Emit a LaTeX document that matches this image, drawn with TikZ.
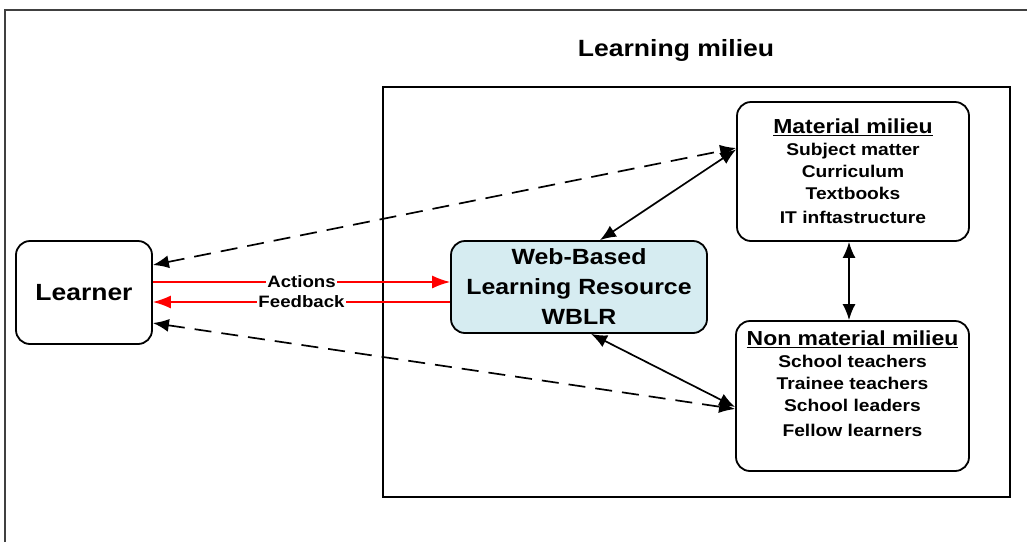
\documentclass[tikz,border=0pt]{standalone}
\usepackage{fontspec}
\setmainfont[FakeStretch=1.13]{Liberation Sans}
\usetikzlibrary{arrows.meta,calc}
\definecolor{wblrblue}{RGB}{214,236,241}
\newcommand\hdfont{\fontsize{20.3}{22}\selectfont\bfseries}
\begin{document}
\begin{tikzpicture}[x=1pt,y=-1pt,
  box/.style={draw=black,line width=1.8pt,rounded corners=14pt,fill=white,inner sep=0pt},
  conn/.style={line width=1.7pt,{Latex[length=16pt,width=13pt]}-{Latex[length=16pt,width=13pt]}},
  dashconn/.style={conn,dash pattern=on 17pt off 10pt},
  redarrow/.style={draw=red,line width=1.4pt,-{Latex[length=18pt,width=13pt]},color=red},
  lbl/.style={fill=white,inner sep=1pt,text=black,font=\fontsize{16.5}{18}\selectfont\bfseries},
  boxtext/.style={anchor=north,inner sep=0pt,align=center,font=\fontsize{17}{22}\selectfont\bfseries}
]
\useasboundingbox (0,0) rectangle (1027,542);
\draw[line width=1.2pt,draw=black!75] (5,542) -- (5,10) -- (1027,10);

\node[draw,line width=1.8pt,minimum width=627pt,minimum height=410pt,inner sep=0pt] (milieu) at (696.5,292) {};
\node[font=\fontsize{23.5}{28}\selectfont\bfseries] (title) at (676,50) {Learning milieu};

\node[box,minimum width=136pt,minimum height=103pt,font=\fontsize{23.4}{28}\selectfont\bfseries] (learner) at (84,292.5) {Learner};
\node[box,fill=wblrblue,minimum width=256pt,minimum height=92pt,align=center,font=\fontsize{22}{30}\selectfont\bfseries] (wblr) at (579,287) {Web-Based\\Learning Resource\\WBLR};

\node[box,minimum width=232pt,minimum height=139pt] (mat) at (853,171.5) {};
\node[boxtext] (mattext) at (853,119) {{\hdfont\underline{Material milieu}}\\Subject matter\\Curriculum\\Textbooks\\[2pt]IT inftastructure};

\node[box,minimum width=233pt,minimum height=150pt] (nonmat) at (852.5,396) {};
\node[boxtext] (nonmattext) at (852.5,331) {{\hdfont\underline{Non material milieu}}\\School teachers\\Trainee teachers\\School leaders\\[3pt]Fellow learners};

\draw[redarrow] ([yshift=10.5pt]learner.east) -- node[lbl] (actions) {Actions} ([yshift=5pt]wblr.west);
\draw[redarrow] ([yshift=-15pt]wblr.west) -- node[lbl] (feedback) {Feedback} ([yshift=-9.5pt]learner.east);

\draw[dashconn] ([yshift=27.5pt]learner.east) -- ([yshift=23.5pt]mat.west);
\draw[dashconn] ([yshift=-30.5pt]learner.east) -- ([yshift=-13pt]nonmat.west);
\draw[conn] ([xshift=21pt]wblr.north) -- ([yshift=22pt]mat.west);
\draw[conn] ([xshift=12pt]wblr.south) -- ([yshift=-11pt]nonmat.west);
\draw[conn] ([xshift=-4pt]mat.south) -- ([xshift=-3.5pt]nonmat.north);
\end{tikzpicture}
\end{document}
